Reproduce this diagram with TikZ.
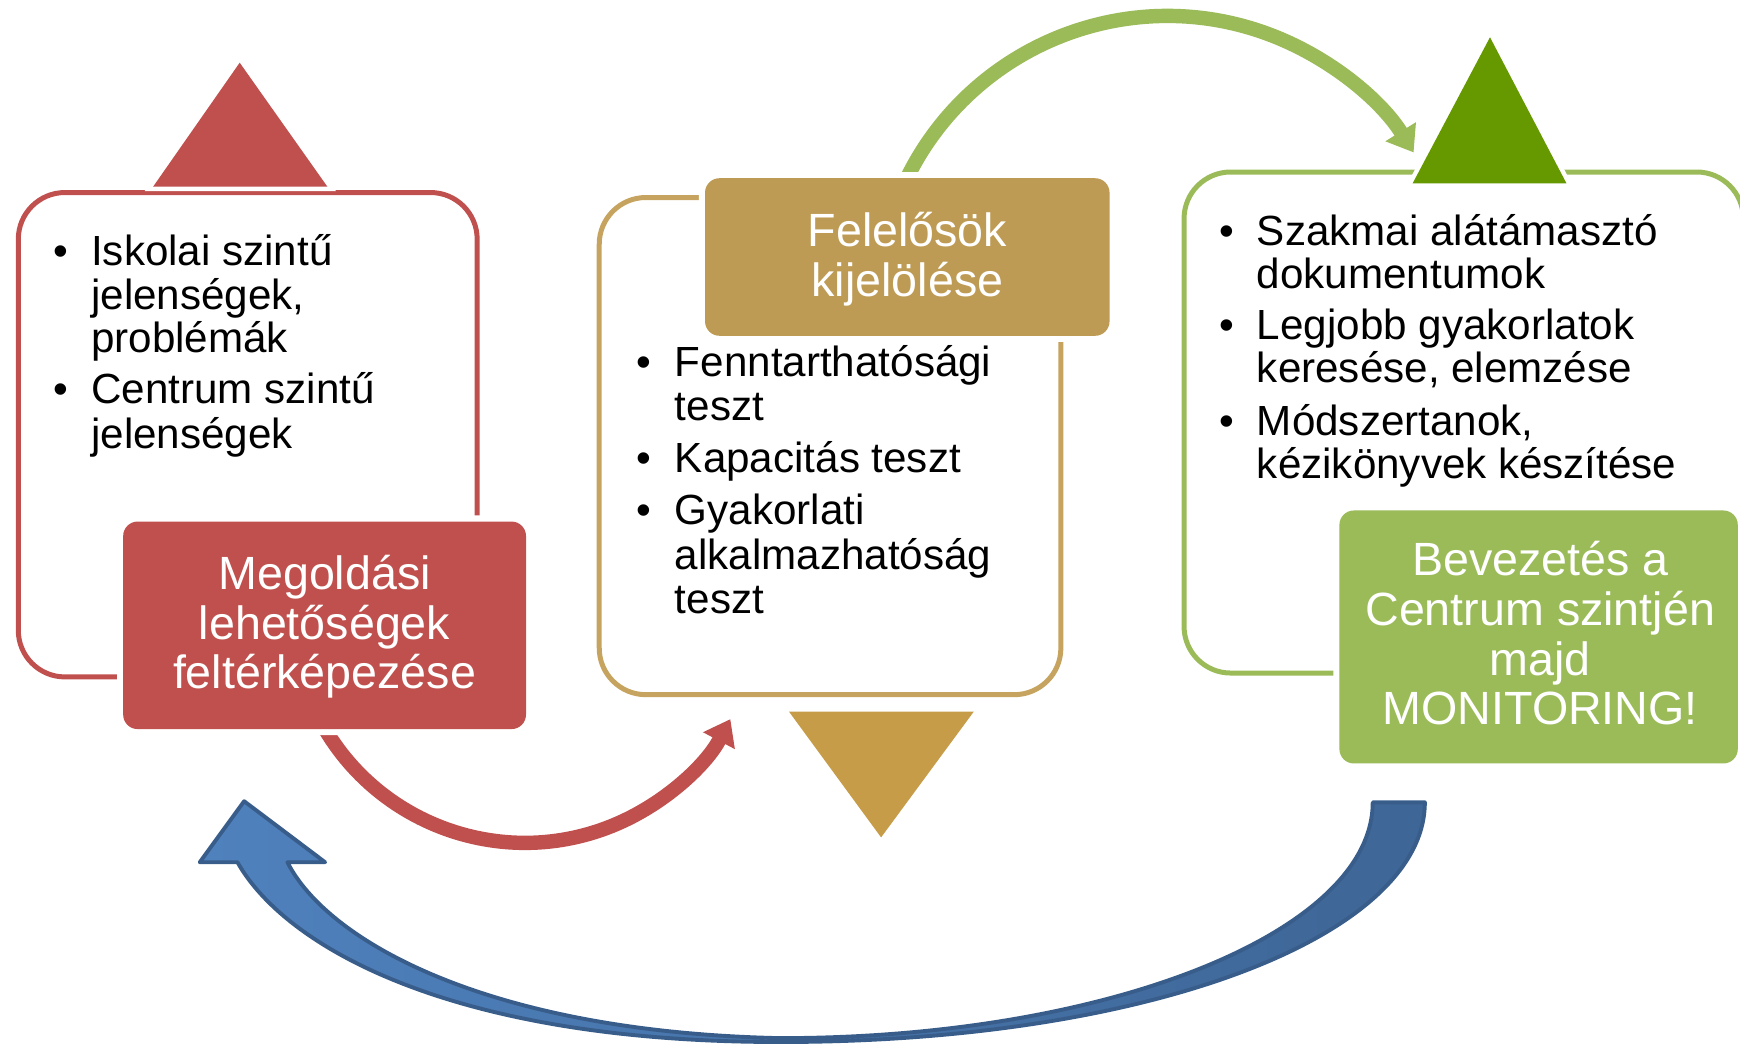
\documentclass[tikz,border=0pt]{standalone}
\usepackage{fontspec}
\setmainfont{Liberation Sans}
\usetikzlibrary{arrows.meta,calc}
\definecolor{redc}{HTML}{C0504D}
\definecolor{goldbox}{HTML}{BE9B54}
\definecolor{goldframe}{HTML}{C6A45F}
\definecolor{goldtri}{HTML}{C69C48}
\definecolor{greenc}{HTML}{9BBB59}
\definecolor{greentri}{HTML}{669900}
\definecolor{bluelight}{HTML}{4F81BD}
\definecolor{bluedark}{HTML}{3E6696}
\definecolor{blueline}{HTML}{385D8A}
\begin{document}
\begin{tikzpicture}[x=1pt,y=-1pt,
  outlineframe/.style={draw, rounded corners=42pt, line width=4.5pt},
  filledbox/.style={rectangle, rounded corners=13pt, inner sep=0pt, preaction={draw=white, line width=11pt}},
  trishape/.style={preaction={draw=white, line width=8pt}},
  wt/.style={anchor=base, inner sep=0pt, text=white, font=\fontsize{42}{45}\selectfont},
  bt/.style={anchor=base west, inner sep=0pt, font=\fontsize{38}{40}\selectfont},
  bul/.style={anchor=base, inner sep=0pt, font=\fontsize{38}{40}\selectfont},
  curvarrow/.style={line width=13pt, -{Triangle[length=22pt,width=31pt]}},
]
\useasboundingbox (0,0) rectangle (1568,942);
\clip (0,0) rectangle (1568,942);

% frames
\draw[outlineframe, draw=redc] (16.5,173.5) rectangle (430,610);
\draw[outlineframe, draw=goldframe] (540,178) rectangle (956,626);
\draw[outlineframe, draw=greenc] (1067,155) rectangle (1571,606.5);

% curved connectors
\coordinate (rc) at (473,550);
\coordinate (rstart) at ($(rc)+(155:209.5)$);
\draw[curvarrow, color=redc] (rstart) arc[start angle=155, end angle=27.9, radius=209.5];
\coordinate (gc) at (1052,276);
\coordinate (gstart) at ($(gc)+(-157:261.6)$);
\draw[curvarrow, color=greenc] (gstart) arc[start angle=-157, end angle=-32, radius=261.6];

% filled boxes
\node[filledbox, fill=redc, minimum width=363pt, minimum height=187pt] (redbox) at (292.5,563.5) {};
\node[filledbox, fill=goldbox, minimum width=364.5pt, minimum height=142pt] (goldbox) at (817.6,231.6) {};
\node[filledbox, fill=greenc, minimum width=359pt, minimum height=228pt] (greenbox) at (1386.5,574) {};

% triangles
\fill[redc, trishape] (216,56.5) -- (295,168.2) -- (138,168.2) -- cycle;
\fill[greentri, trishape] (1342.7,33.6) -- (1411.6,165.2) -- (1273,165.2) -- cycle;
\fill[goldtri, trishape] (711,641.3) -- (877.5,641.3) -- (794,754.6) -- cycle;

% blue curved block arrow
\draw[line width=3.5pt, draw=blueline, left color=bluelight, right color=bluedark, line join=round]
  (220,722) -- (293,777) -- (259,777)
  .. controls (295,848) and (440,930) .. (703,935.5)
  .. controls (998,935.5) and (1237,840) .. (1237,723)
  -- (1284,723)
  .. controls (1284,842) and (1040,939) .. (703,939)
  .. controls (400,939) and (255,850) .. (214,777)
  -- (180,777) -- cycle;

% white box texts
\node[wt] (rt1) at (292.5,531) {Megoldási};
\node[wt] (rt2) at (292.5,576) {lehetőségek};
\node[wt] (rt3) at (292.5,620) {feltérképezése};
\node[wt] (gt1) at (817.8,222.5) {Felelősök};
\node[wt] (gt2) at (817.8,267.5) {kijelölése};
\node[wt] (et1) at (1388,519) {Bevezetés a};
\node[wt] (et2) at (1388,564) {Centrum szintjén};
\node[wt] (et3) at (1388,608.5) {majd};
\node[wt] (et4) at (1388,652.5) {MONITORING!};

% red bullets
\node[bul] (rb1) at (55,239) {•};
\node[bt] (r1) at (82,239) {Iskolai szintű};
\node[bt] (r2) at (82,279) {jelenségek,};
\node[bt] (r3) at (82,318) {problémák};
\node[bul] (rb2) at (55,364) {•};
\node[bt] (r4) at (82,364) {Centrum szintű};
\node[bt] (r5) at (82,404) {jelenségek};

% gold bullets
\node[bul] (gb1) at (580.5,339) {•};
\node[bt] (g1) at (608,339) {Fenntarthatósági};
\node[bt] (g2) at (608,379) {teszt};
\node[bul] (gb2) at (580.5,426) {•};
\node[bt] (g3) at (608,426) {Kapacitás teszt};
\node[bul] (gb3) at (580.5,473) {•};
\node[bt] (g4) at (608,473) {Gyakorlati};
\node[bt] (g5) at (608,513) {alkalmazhatóság};
\node[bt] (g6) at (608,553) {teszt};

% green bullets
\node[bul] (eb1) at (1106,221) {•};
\node[bt] (e1) at (1132.5,221) {Szakmai alátámasztó};
\node[bt] (e2) at (1132.5,260) {dokumentumok};
\node[bul] (eb2) at (1106,306) {•};
\node[bt] (e3) at (1132.5,306) {Legjobb gyakorlatok};
\node[bt] (e4) at (1132.5,345) {keresése, elemzése};
\node[bul] (eb3) at (1106,392) {•};
\node[bt] (e5) at (1132.5,392) {Módszertanok,};
\node[bt] (e6) at (1132.5,431) {kézikönyvek készítése};
\end{tikzpicture}
\end{document}
